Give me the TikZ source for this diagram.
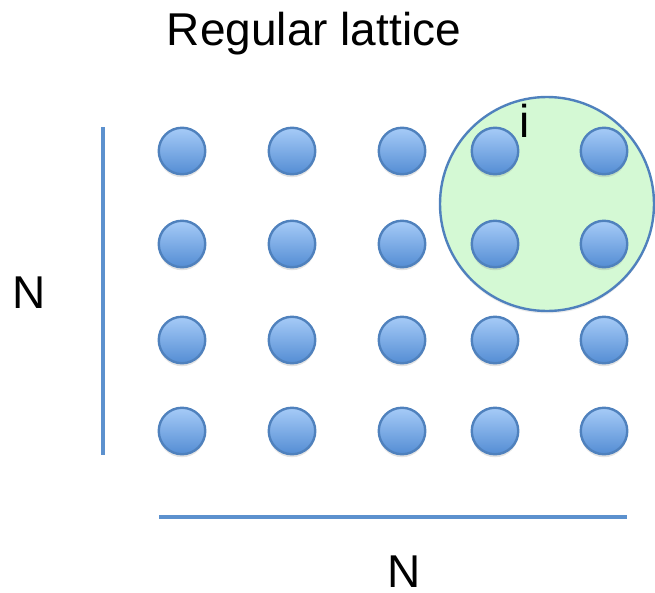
\documentclass[tikz,border=0pt]{standalone}
\usepackage{fontspec}
\setmainfont{Liberation Sans}
\definecolor{dotblue}{RGB}{79, 129, 189}
\definecolor{dottop}{RGB}{166, 203, 247}
\definecolor{dotbot}{RGB}{84, 141, 212}
\definecolor{axisblue}{RGB}{92, 145, 206}
\definecolor{hoodgreen}{RGB}{212, 249, 212}
\usetikzlibrary{shadows, positioning}

\begin{document}
\begin{tikzpicture}[
  x=1pt, y=-1pt,
  site/.style={circle, draw=dotblue, line width=2.4pt, minimum size=46.5pt, inner sep=0pt,
    top color=dottop, bottom color=dotbot,
    drop shadow={shadow xshift=0pt, shadow yshift=-3pt, opacity=0.22}},
  hood/.style={circle, draw=dotblue, line width=2.4pt, minimum size=214pt, inner sep=0pt,
    fill=hoodgreen, drop shadow={shadow xshift=0pt, shadow yshift=-2.5pt, opacity=0.15}},
  side/.style={draw=axisblue, line width=4.5pt},
  lbl/.style={font=\fontsize{46}{55}\selectfont, anchor=base, inner sep=0pt}
]
  \useasboundingbox (0,0) rectangle (655,592);

  % title and sizes
  \node[lbl] (title) at (314, 45) {Regular lattice};
  \node[lbl] (nleft) at (29, 308) {N};
  \node[lbl] (nbottom) at (404, 587) {N};

  % neighbourhood of site i
  \node[hood] (hood) at (547, 204) {};
  \node[lbl] (ilabel) at (525, 137) {i};

  % lattice sites
  \node[site] (s11) at (182, 151) {};
  \node[site] (s12) at (292, 151) {};
  \node[site] (s13) at (402, 151) {};
  \node[site] (s14) at (495, 151) {};
  \node[site] (s15) at (604, 151) {};
  \node[site] (s21) at (182, 244) {};
  \node[site] (s22) at (292, 244) {};
  \node[site] (s23) at (402, 244) {};
  \node[site] (s24) at (495, 244) {};
  \node[site] (s25) at (604, 244) {};
  \node[site] (s31) at (182, 340) {};
  \node[site] (s32) at (292, 340) {};
  \node[site] (s33) at (402, 340) {};
  \node[site] (s34) at (495, 340) {};
  \node[site] (s35) at (604, 340) {};
  \node[site] (s41) at (182, 431) {};
  \node[site] (s42) at (292, 431) {};
  \node[site] (s43) at (402, 431) {};
  \node[site] (s44) at (495, 431) {};
  \node[site] (s45) at (604, 431) {};

  % side bars
  \coordinate (vtop) at (103, 127);
  \coordinate (vbot) at (103, 455);
  \coordinate (hleft) at (159, 517);
  \coordinate (hright) at (627, 517);
  \draw[side] (vtop) -- (vbot);
  \draw[side] (hleft) -- (hright);
\end{tikzpicture}
\end{document}
